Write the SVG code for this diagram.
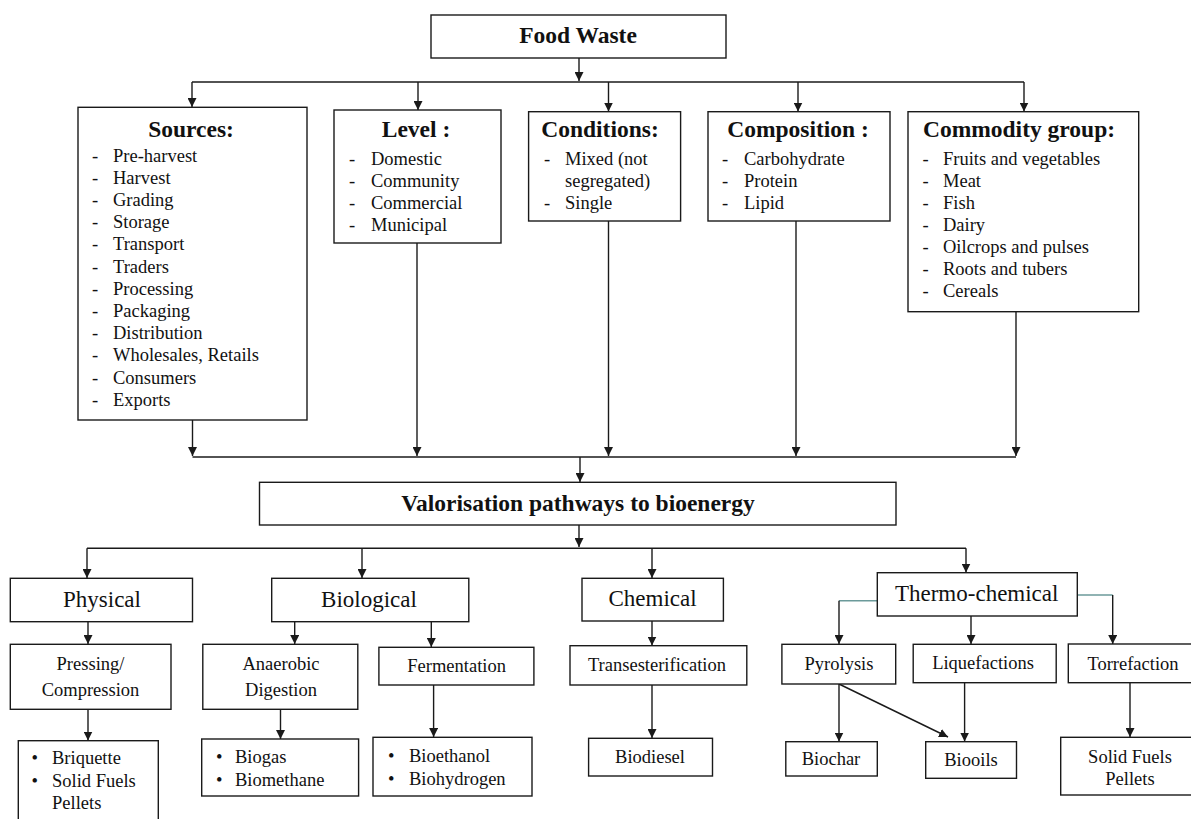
<svg xmlns="http://www.w3.org/2000/svg" width="1191" height="819" viewBox="0 0 1191 819">
  <style>
    .box { fill: #ffffff; stroke: #1a1a1a; stroke-width: 1.4; }
    .ln { fill: none; stroke: #1a1a1a; stroke-width: 1.4; }
    .arr { marker-end: url(#ah); }
    .teal { fill: none; stroke: #6b9a9a; stroke-width: 1.4; }
    text { font-family: "Liberation Serif", "Times New Roman", serif; fill: #111111; }
    .hd { font-size: 23.5px; font-weight: bold; text-anchor: middle; }
    .it { font-size: 18.5px; }
    .md { font-size: 23px; text-anchor: middle; }
    .sm { font-size: 18.5px; text-anchor: middle; }
  </style>
  <defs>
    <marker id="ah" viewBox="0 0 10 10" refX="10" refY="5" markerUnits="userSpaceOnUse" markerWidth="9" markerHeight="9" orient="auto">
      <path d="M0,0 L10,5 L0,10 z" fill="#1a1a1a"/>
    </marker>
  </defs>
  <rect width="1191" height="819" fill="#ffffff"/>

  <!-- connectors -->
  <g id="connectors">
    <!-- top fan-out -->
    <path class="ln arr" d="M579 58 V81"/>
    <path class="ln" d="M192 82 H1024"/>
    <path class="ln arr" d="M192 82 V107"/>
    <path class="ln arr" d="M418 82 V110"/>
    <path class="ln arr" d="M608.5 82 V111.5"/>
    <path class="ln arr" d="M798 82 V111.5"/>
    <path class="ln arr" d="M1024 82 V111.5"/>
    <!-- fan-in to valorisation -->
    <path class="ln arr" d="M192.5 420 V456"/>
    <path class="ln arr" d="M417 243 V456"/>
    <path class="ln arr" d="M608.5 221 V456"/>
    <path class="ln arr" d="M796 221 V456"/>
    <path class="ln arr" d="M1016 311.5 V456"/>
    <path class="ln" d="M192.5 457 H1016"/>
    <path class="ln arr" d="M580 457 V482"/>
    <!-- pathway fan-out -->
    <path class="ln arr" d="M579 525 V547"/>
    <path class="ln" d="M87 548.3 H966"/>
    <path class="ln arr" d="M87 548.3 V578"/>
    <path class="ln arr" d="M362 548.3 V578"/>
    <path class="ln arr" d="M652 548.3 V578"/>
    <path class="ln arr" d="M966 548.3 V572.5"/>
    <!-- second level -->
    <path class="ln arr" d="M88 621.7 V644"/>
    <path class="ln arr" d="M294.7 621.7 V644"/>
    <path class="ln arr" d="M431.3 621.7 V647"/>
    <path class="ln arr" d="M652 621 V645.5"/>
    <path class="teal" d="M877.3 600.7 H839"/>
    <path class="ln arr" d="M839 600.7 V644"/>
    <path class="ln arr" d="M971 616 V644"/>
    <path class="teal" d="M1077.3 595 H1112.7"/>
    <path class="ln arr" d="M1112.7 595 V644"/>
    <!-- products -->
    <path class="ln arr" d="M88 709.3 V740.5"/>
    <path class="ln arr" d="M280.5 709.3 V739"/>
    <path class="ln arr" d="M433.6 685 V737"/>
    <path class="ln arr" d="M652 685 V738"/>
    <path class="ln arr" d="M839 684 V741.5"/>
    <path class="ln arr" d="M839 684 L948 737"/>
    <path class="ln arr" d="M964.6 682.7 V741.5"/>
    <path class="ln arr" d="M1130 682.7 V737"/>
  </g>

  <g id="food-waste">
    <rect class="box" x="431" y="15" width="295" height="43"/>
    <text class="hd" x="578" y="43">Food Waste</text>
  </g>

  <g id="sources">
    <rect class="box" x="78" y="107.3" width="229" height="312.7"/>
    <text class="hd" x="191" y="137">Sources:</text>
    <g class="it">
      <text x="92" y="161.5">-</text><text x="113" y="161.5">Pre-harvest</text>
      <text x="92" y="183.7">-</text><text x="113" y="183.7">Harvest</text>
      <text x="92" y="205.9">-</text><text x="113" y="205.9">Grading</text>
      <text x="92" y="228.1">-</text><text x="113" y="228.1">Storage</text>
      <text x="92" y="250.3">-</text><text x="113" y="250.3">Transport</text>
      <text x="92" y="272.5">-</text><text x="113" y="272.5">Traders</text>
      <text x="92" y="294.7">-</text><text x="113" y="294.7">Processing</text>
      <text x="92" y="316.9">-</text><text x="113" y="316.9">Packaging</text>
      <text x="92" y="339.1">-</text><text x="113" y="339.1">Distribution</text>
      <text x="92" y="361.3">-</text><text x="113" y="361.3">Wholesales, Retails</text>
      <text x="92" y="383.5">-</text><text x="113" y="383.5">Consumers</text>
      <text x="92" y="405.7">-</text><text x="113" y="405.7">Exports</text>
    </g>
  </g>

  <g id="level">
    <rect class="box" x="334" y="110" width="167" height="133"/>
    <text class="hd" x="416" y="137">Level :</text>
    <g class="it">
      <text x="349" y="165">-</text><text x="371" y="165">Domestic</text>
      <text x="349" y="187">-</text><text x="371" y="187">Community</text>
      <text x="349" y="209">-</text><text x="371" y="209">Commercial</text>
      <text x="349" y="231">-</text><text x="371" y="231">Municipal</text>
    </g>
  </g>

  <g id="conditions">
    <rect class="box" x="528.6" y="111.7" width="152" height="109.3"/>
    <text class="hd" x="600" y="137">Conditions:</text>
    <g class="it">
      <text x="544" y="165">-</text><text x="565" y="165">Mixed (not</text>
      <text x="565" y="187">segregated)</text>
      <text x="544" y="209">-</text><text x="565" y="209">Single</text>
    </g>
  </g>

  <g id="composition">
    <rect class="box" x="708" y="111.7" width="182" height="109.3"/>
    <text class="hd" x="798" y="137">Composition :</text>
    <g class="it">
      <text x="722" y="165">-</text><text x="744" y="165">Carbohydrate</text>
      <text x="722" y="187">-</text><text x="744" y="187">Protein</text>
      <text x="722" y="209">-</text><text x="744" y="209">Lipid</text>
    </g>
  </g>

  <g id="commodity-group">
    <rect class="box" x="908" y="111.7" width="230.7" height="200"/>
    <text class="hd" x="1019" y="137">Commodity group:</text>
    <g class="it">
      <text x="922.5" y="165">-</text><text x="943" y="165">Fruits and vegetables</text>
      <text x="922.5" y="187">-</text><text x="943" y="187">Meat</text>
      <text x="922.5" y="209">-</text><text x="943" y="209">Fish</text>
      <text x="922.5" y="231">-</text><text x="943" y="231">Dairy</text>
      <text x="922.5" y="253">-</text><text x="943" y="253">Oilcrops and pulses</text>
      <text x="922.5" y="275">-</text><text x="943" y="275">Roots and tubers</text>
      <text x="922.5" y="297">-</text><text x="943" y="297">Cereals</text>
    </g>
  </g>

  <g id="valorisation">
    <rect class="box" x="259.5" y="482.3" width="636.5" height="42.7"/>
    <text class="hd" x="578" y="511">Valorisation pathways to bioenergy</text>
  </g>

  <g id="physical">
    <rect class="box" x="10.3" y="578.3" width="182.2" height="43.4"/>
    <text class="md" x="102" y="607">Physical</text>
  </g>
  <g id="biological">
    <rect class="box" x="271.7" y="578.3" width="197.1" height="43.4"/>
    <text class="md" x="369" y="607">Biological</text>
  </g>
  <g id="chemical">
    <rect class="box" x="582" y="578.3" width="141.4" height="42.7"/>
    <text class="md" x="652.6" y="606">Chemical</text>
  </g>
  <g id="thermo-chemical">
    <rect class="box" x="877.3" y="572.7" width="200" height="43.3"/>
    <text class="md" x="976.7" y="601">Thermo-chemical</text>
  </g>

  <g id="pressing">
    <rect class="box" x="10.3" y="644.3" width="160.7" height="65"/>
    <text class="sm" x="90.5" y="670">Pressing/</text>
    <text class="sm" x="90.5" y="696">Compression</text>
  </g>
  <g id="anaerobic-digestion">
    <rect class="box" x="202.8" y="644.3" width="155" height="65"/>
    <text class="sm" x="281" y="670">Anaerobic</text>
    <text class="sm" x="281" y="696">Digestion</text>
  </g>
  <g id="fermentation">
    <rect class="box" x="378.9" y="647.3" width="155" height="37.7"/>
    <text class="sm" x="456.6" y="672">Fermentation</text>
  </g>
  <g id="transesterification">
    <rect class="box" x="570" y="645.7" width="176.8" height="39.3"/>
    <text class="sm" x="657" y="671">Transesterification</text>
  </g>
  <g id="pyrolysis">
    <rect class="box" x="781.9" y="644.3" width="113.8" height="39.7"/>
    <text class="sm" x="839" y="670">Pyrolysis</text>
  </g>
  <g id="liquefactions">
    <rect class="box" x="913.2" y="644.3" width="143" height="38.4"/>
    <text class="sm" x="983" y="669">Liquefactions</text>
  </g>
  <g id="torrefaction">
    <rect class="box" x="1068.3" y="644" width="130" height="38.7"/>
    <text class="sm" x="1133" y="670">Torrefaction</text>
  </g>

  <g id="briquette">
    <rect class="box" x="18.3" y="740.7" width="140" height="85"/>
    <g class="it">
      <text x="31.5" y="764">•</text><text x="52" y="764">Briquette</text>
      <text x="31.5" y="787">•</text><text x="52" y="787">Solid Fuels</text>
      <text x="52" y="809">Pellets</text>
    </g>
  </g>
  <g id="biogas">
    <rect class="box" x="201.7" y="739" width="156.9" height="57"/>
    <g class="it">
      <text x="216" y="763">•</text><text x="235" y="763">Biogas</text>
      <text x="216" y="786">•</text><text x="235" y="786">Biomethane</text>
    </g>
  </g>
  <g id="bioethanol">
    <rect class="box" x="373" y="737.3" width="159" height="58.7"/>
    <g class="it">
      <text x="388" y="762">•</text><text x="409" y="762">Bioethanol</text>
      <text x="388" y="785">•</text><text x="409" y="785">Biohydrogen</text>
    </g>
  </g>
  <g id="biodiesel">
    <rect class="box" x="588.6" y="738.3" width="123.9" height="37.7"/>
    <text class="sm" x="650" y="763">Biodiesel</text>
  </g>
  <g id="biochar">
    <rect class="box" x="785.8" y="741.7" width="91.5" height="34.3"/>
    <text class="sm" x="831" y="765">Biochar</text>
  </g>
  <g id="biooils">
    <rect class="box" x="925.7" y="741.7" width="90.8" height="36.6"/>
    <text class="sm" x="971" y="766">Biooils</text>
  </g>
  <g id="solid-fuels">
    <rect class="box" x="1060.7" y="737.3" width="140" height="57.7"/>
    <text class="sm" x="1130" y="763">Solid Fuels</text>
    <text class="sm" x="1130" y="785">Pellets</text>
  </g>
</svg>
